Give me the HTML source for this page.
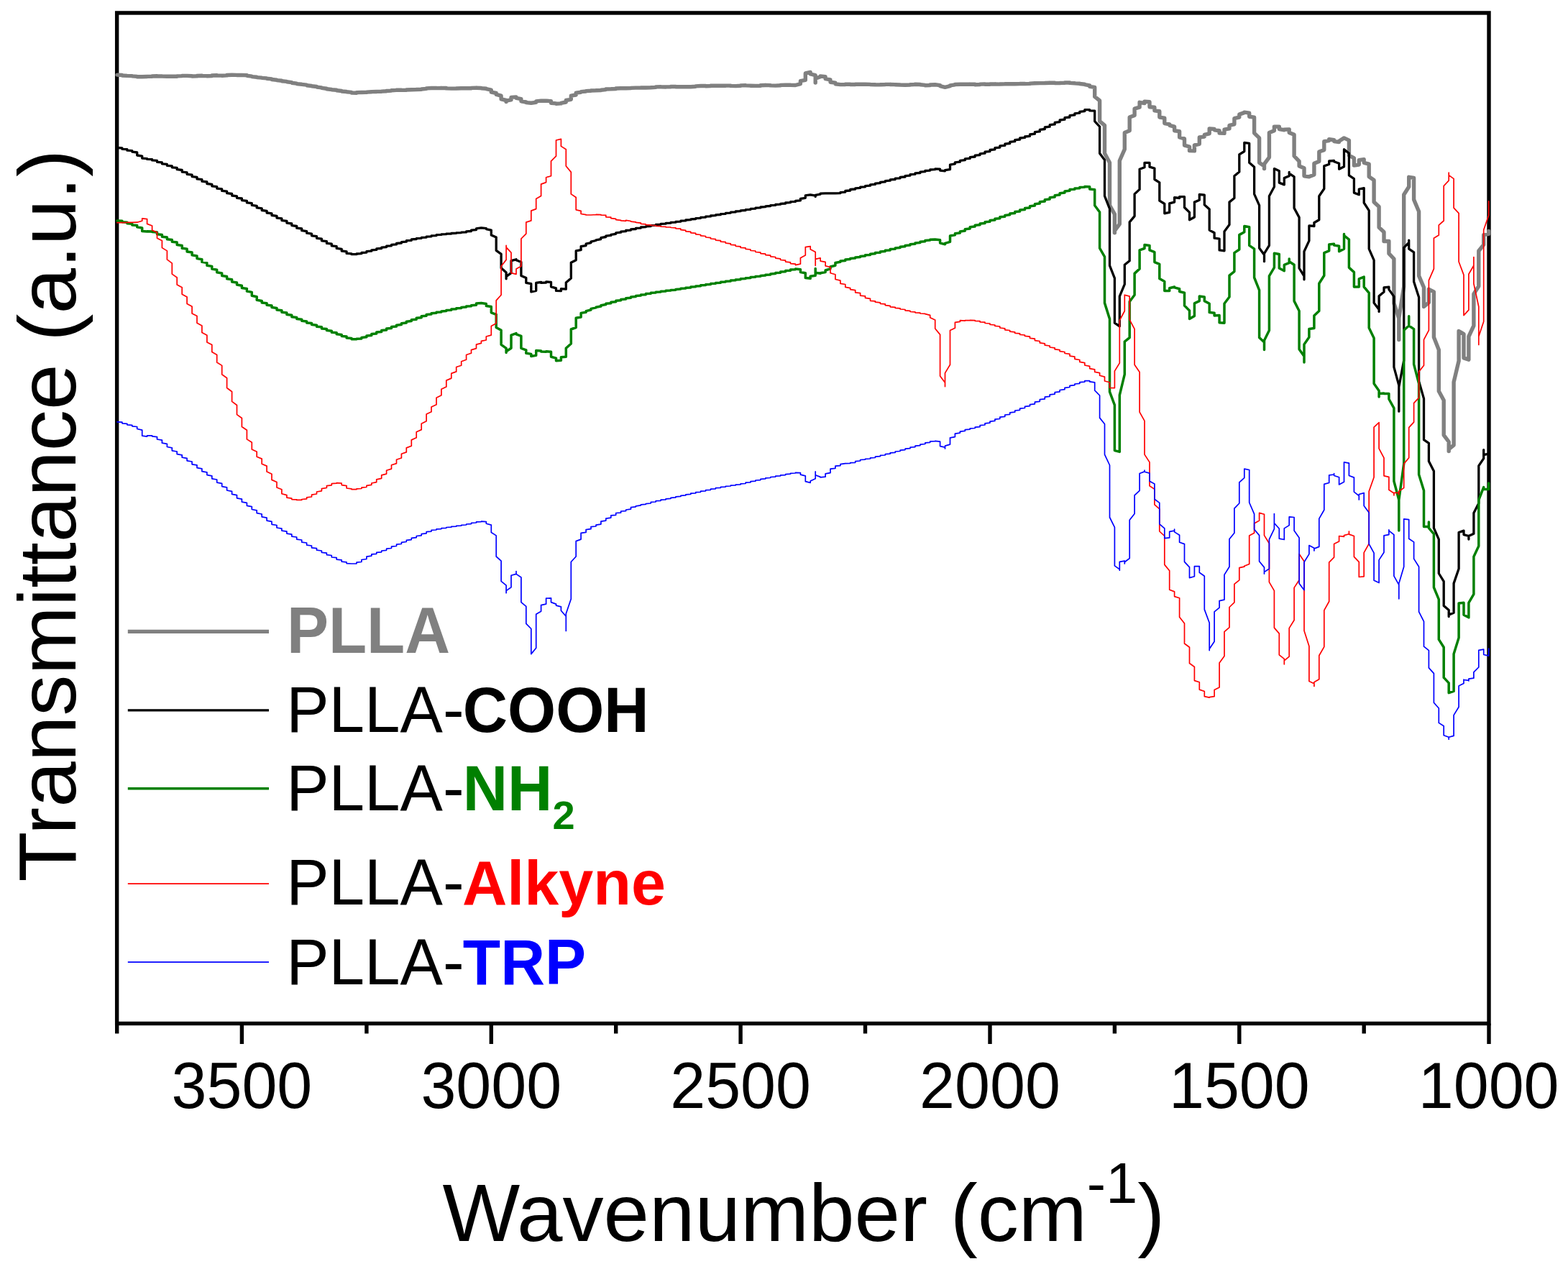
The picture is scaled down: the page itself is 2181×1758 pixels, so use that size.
<!DOCTYPE html>
<html lang="en">
<head>
<meta charset="utf-8">
<title>FTIR spectra</title>
<style>
html,body{margin:0;padding:0;background:#fff;}
body{width:2181px;height:1758px;overflow:hidden;}
svg{display:block;}
text{font-family:"Liberation Sans",Arial,Helvetica,sans-serif;fill:#000;}
.b{font-weight:bold;}
</style>
</head>
<body>
<svg xmlns="http://www.w3.org/2000/svg" width="2181" height="1758" viewBox="0 0 2181 1758">
<rect x="0" y="0" width="2181" height="1758" fill="#fff"/>
<g id="axes" stroke="#000" stroke-width="5.4" fill="none">
<rect x="162.65" y="17.95" width="1908.35" height="1405.55"/>
<line x1="162.7" y1="1423.5" x2="162.7" y2="1437.5"/>
<line x1="336.4" y1="1423.5" x2="336.4" y2="1452.0"/>
<line x1="509.9" y1="1423.5" x2="509.9" y2="1437.5"/>
<line x1="683.3" y1="1423.5" x2="683.3" y2="1452.0"/>
<line x1="856.7" y1="1423.5" x2="856.7" y2="1437.5"/>
<line x1="1030.1" y1="1423.5" x2="1030.1" y2="1452.0"/>
<line x1="1203.5" y1="1423.5" x2="1203.5" y2="1437.5"/>
<line x1="1377.0" y1="1423.5" x2="1377.0" y2="1452.0"/>
<line x1="1550.4" y1="1423.5" x2="1550.4" y2="1437.5"/>
<line x1="1723.8" y1="1423.5" x2="1723.8" y2="1452.0"/>
<line x1="1897.2" y1="1423.5" x2="1897.2" y2="1437.5"/>
<line x1="2071.0" y1="1423.5" x2="2071.0" y2="1452.0"/>
</g>
<g id="curves">
<path d="M163.0 104.1L169.9 104.5L169.9 105.0L176.9 105.4L176.9 105.4L183.8 105.6L183.8 105.9L190.7 106.4L190.7 106.7L197.7 106.8L197.7 106.7L204.6 106.5L204.6 106.4L211.6 106.2L211.6 106.0L218.5 105.8L218.5 105.9L225.4 106.0L225.4 106.1L232.4 106.2L232.4 106.2L239.3 106.3L239.3 106.3L246.2 106.2L246.2 105.9L253.2 105.6L253.2 105.4L260.1 105.4L260.1 105.4L267.1 105.7L267.1 106.0L274.0 105.9L274.0 105.5L280.9 105.3L280.9 105.4L287.9 105.6L287.9 105.8L294.8 105.5L294.8 105.0L301.7 104.7L301.7 104.9L308.7 105.1L308.7 105.2L315.6 104.9L315.6 104.5L322.6 104.3L322.6 104.3L329.5 104.4L329.5 104.5L336.4 104.5L336.4 104.4L343.4 104.7L343.4 105.3L350.3 106.1L350.3 106.6L357.2 107.2L357.2 107.6L364.2 108.1L364.2 108.4L371.1 108.9L371.1 109.3L378.0 109.9L378.0 110.5L385.0 111.2L385.0 111.6L391.9 112.3L391.9 112.8L398.9 113.4L398.9 113.8L405.8 114.6L405.8 115.3L412.7 116.1L412.7 116.6L419.7 117.2L419.7 117.4L426.6 118.1L426.6 118.7L433.5 119.5L433.5 119.8L440.5 120.5L440.5 121.1L447.4 121.9L447.4 122.4L454.4 123.2L454.4 123.8L461.3 124.5L461.3 124.8L468.2 125.3L468.2 125.8L475.2 126.5L475.2 127.0L482.1 127.5L482.1 127.8L489.0 128.4L489.0 129.0L496.0 129.2L496.0 128.7L502.9 128.4L502.9 128.5L509.9 128.4L509.9 128.1L516.8 127.8L516.8 127.6L523.7 127.5L523.7 127.4L530.7 127.3L530.7 127.1L537.6 126.7L537.6 126.5L544.5 126.1L544.5 125.7L551.5 125.4L551.5 125.2L558.4 125.2L558.4 125.4L565.3 125.3L565.3 125.0L572.3 124.7L572.3 124.7L579.2 124.6L579.2 124.5L586.2 124.3L586.2 124.0L593.1 123.4L593.1 122.9L600.0 122.5L600.0 122.5L607.0 122.5L607.0 122.6L613.9 122.5L613.9 122.4L620.8 122.5L620.8 122.9L627.8 123.1L627.8 123.1L634.7 123.1L634.7 123.0L641.7 122.8L641.7 122.7L648.6 122.7L648.6 122.8L655.5 122.7L655.5 122.4L662.5 122.2L662.5 122.3L669.4 122.5L669.4 122.7L676.3 123.3L676.3 123.6L683.3 125.1L683.3 128.2L690.2 129.5L690.2 131.4L697.1 133.2L697.1 137.9L704.1 139.5L704.1 141.6L704.1 140.1L711.0 138.9L711.0 135.4L718.0 134.9L718.0 136.4L724.9 137.6L724.9 140.8L731.8 142.0L731.8 142.6L738.8 143.3L738.8 143.3L745.7 142.4L745.7 140.9L752.6 140.1L752.6 140.1L759.6 140.2L759.6 140.1L766.5 140.8L766.5 143.3L773.5 143.9L773.5 144.2L780.4 143.9L780.4 143.3L787.3 142.0L787.3 139.5L794.3 138.3L794.3 133.2L801.2 132.0L801.2 129.1L808.1 128.2L808.1 127.6L815.1 127.0L815.1 126.6L822.0 126.2L822.0 126.0L829.0 125.9L829.0 125.8L835.9 125.5L835.9 125.2L842.8 124.6L842.8 124.0L849.8 123.7L849.8 123.8L856.7 123.5L856.7 123.0L863.6 122.7L863.6 122.6L870.6 122.7L870.6 122.8L877.5 122.6L877.5 122.4L884.4 122.1L884.4 122.1L891.4 122.1L891.4 122.0L898.3 122.0L898.3 122.0L905.3 121.9L905.3 121.8L912.2 121.4L912.2 120.9L919.1 120.7L919.1 120.9L926.1 121.0L926.1 120.9L933.0 120.8L933.0 120.5L939.9 120.5L939.9 120.7L946.9 120.8L946.9 120.7L953.8 120.7L953.8 120.7L960.8 120.7L960.8 120.7L967.7 120.3L967.7 119.9L974.6 119.5L974.6 119.5L981.6 119.5L981.6 119.7L988.5 119.5L988.5 119.3L995.4 119.1L995.4 119.1L1002.4 119.2L1002.4 119.3L1009.3 119.3L1009.3 119.1L1016.3 119.1L1016.3 119.4L1023.2 119.6L1023.2 119.6L1030.1 119.3L1030.1 118.9L1037.1 118.7L1037.1 118.9L1044.0 119.1L1044.0 119.2L1050.9 119.4L1050.9 119.4L1057.9 119.2L1057.9 118.8L1064.8 118.5L1064.8 118.4L1071.7 118.6L1071.7 118.9L1078.7 119.1L1078.7 119.1L1085.6 118.8L1085.6 118.4L1092.6 118.1L1092.6 118.2L1099.5 118.3L1099.5 118.4L1106.4 118.5L1106.4 118.5L1113.4 116.6L1113.4 112.6L1120.3 111.4L1120.3 102.0L1127.2 100.4L1127.2 103.0L1134.2 104.7L1134.2 115.1L1134.2 109.2L1141.1 106.7L1141.1 105.9L1148.1 106.7L1148.1 109.7L1155.0 110.9L1155.0 114.2L1161.9 115.1L1161.9 116.7L1168.9 117.6L1168.9 117.6L1175.8 117.6L1175.8 117.3L1182.7 117.3L1182.7 117.5L1189.7 117.5L1189.7 117.3L1196.6 117.3L1196.6 117.3L1203.5 117.3L1203.5 117.2L1210.5 117.4L1210.5 117.6L1217.4 117.8L1217.4 117.9L1224.4 117.9L1224.4 117.8L1231.3 117.6L1231.3 117.4L1238.2 117.4L1238.2 117.5L1245.2 117.6L1245.2 117.8L1252.1 118.0L1252.1 118.1L1259.0 118.3L1259.0 118.3L1266.0 118.1L1266.0 117.7L1272.9 117.4L1272.9 117.2L1279.9 117.5L1279.9 117.8L1286.8 118.4L1286.8 118.7L1293.7 118.5L1293.7 118.0L1300.7 117.7L1300.7 117.7L1307.6 118.6L1307.6 119.7L1314.5 121.4L1314.5 121.4L1321.5 119.7L1321.5 118.8L1328.4 117.8L1328.4 117.5L1335.4 117.2L1335.4 117.3L1342.3 117.3L1342.3 117.3L1349.2 117.2L1349.2 117.1L1356.2 117.3L1356.2 117.7L1363.1 117.6L1363.1 117.1L1370.0 117.0L1370.0 117.3L1377.0 117.3L1377.0 117.0L1383.9 116.9L1383.9 117.0L1390.8 117.1L1390.8 117.0L1397.8 116.9L1397.8 116.7L1404.7 116.7L1404.7 116.8L1411.7 116.8L1411.7 116.8L1418.6 116.6L1418.6 116.5L1425.5 116.5L1425.5 116.6L1432.5 116.4L1432.5 116.1L1439.4 115.8L1439.4 115.7L1446.3 115.6L1446.3 115.6L1453.3 115.6L1453.3 115.5L1460.2 115.3L1460.2 115.1L1467.2 115.2L1467.2 115.5L1474.1 115.6L1474.1 115.4L1481.0 115.2L1481.0 114.9L1488.0 115.0L1488.0 115.4L1494.9 115.7L1494.9 115.9L1501.8 116.2L1501.8 116.5L1508.8 117.2L1508.8 117.7L1515.7 118.9L1515.7 120.4L1522.7 121.4L1522.7 134.4L1529.6 139.9L1529.6 168.7L1536.5 174.3L1536.5 213.3L1543.5 226.3L1543.5 285.7L1550.4 297.8L1550.4 323.8L1550.4 321.0L1557.3 311.7L1557.3 223.5L1564.3 207.7L1564.3 184.5L1571.2 181.7L1571.2 163.1L1578.1 160.4L1578.1 151.1L1585.1 149.2L1585.1 142.3L1592.0 143.6L1592.0 141.2L1599.0 141.8L1599.0 148.7L1605.9 149.2L1605.9 153.9L1612.8 154.8L1612.8 163.1L1619.8 164.1L1619.8 171.5L1626.7 172.8L1626.7 174.3L1633.6 176.1L1633.6 181.7L1640.6 182.6L1640.6 191.0L1647.5 192.9L1647.5 202.1L1654.5 204.0L1654.5 209.6L1661.4 209.9L1661.4 201.8L1668.3 200.3L1668.3 191.0L1675.3 190.1L1675.3 187.3L1682.2 185.8L1682.2 178.9L1689.1 179.5L1689.1 180.8L1696.1 181.7L1696.1 185.1L1703.0 185.4L1703.0 180.2L1710.0 178.9L1710.0 174.3L1716.9 172.8L1716.9 164.6L1723.8 163.1L1723.8 159.1L1730.8 156.6L1730.8 156.1L1737.7 157.2L1737.7 162.2L1744.6 163.1L1744.6 185.1L1751.6 191.9L1751.6 226.3L1758.5 230.9L1758.5 234.6L1758.5 228.1L1765.4 218.8L1765.4 184.5L1772.4 181.7L1772.4 176.1L1779.3 176.1L1779.3 179.5L1786.3 180.8L1786.3 180.2L1793.2 179.9L1793.2 184.5L1800.1 187.3L1800.1 217.0L1807.1 224.4L1807.1 230.9L1814.0 233.7L1814.0 244.8L1820.9 245.8L1820.9 245.8L1827.9 243.0L1827.9 227.2L1834.8 224.4L1834.8 211.0L1841.8 208.6L1841.8 196.6L1848.7 195.6L1848.7 193.8L1855.6 194.7L1855.6 196.6L1862.6 197.5L1862.6 196.2L1869.5 191.9L1869.5 191.9L1876.4 195.1L1876.4 216.1L1883.4 219.8L1883.4 230.0L1890.3 229.1L1890.3 222.6L1897.2 221.6L1897.2 226.3L1904.2 228.1L1904.2 245.8L1911.1 250.4L1911.1 281.1L1918.1 287.6L1918.1 316.3L1925.0 322.8L1925.0 335.5L1931.9 335.5L1931.9 352.6L1938.9 360.0L1938.9 421.9L1945.8 442.6L1945.8 472.6L1945.8 442.6L1952.7 398.6L1952.7 270.7L1959.7 259.7L1959.7 246.3L1966.6 247.4L1966.6 277.6L1973.6 294.3L1973.6 383.6L1980.5 399.7L1980.5 426.5L1987.4 420.7L1987.4 402.3L1994.4 405.8L1994.4 469.1L2001.3 486.4L2001.3 544.0L2008.2 556.7L2008.2 605.2L2015.2 614.5L2015.2 627.5L2015.2 624.7L2022.1 619.1L2022.1 531.3L2029.1 502.0L2029.1 460.5L2036.0 464.5L2036.0 497.9L2042.9 500.2L2042.9 468.0L2049.9 453.0L2049.9 408.9L2056.8 398.0L2056.8 349.0L2063.7 340.4L2063.7 326.6L2070.7 325.4L2070.7 321.4" fill="none" stroke="#808080" stroke-width="5.4" stroke-linejoin="round" stroke-linecap="round"/>
<path d="M163.0 205.5L169.9 205.8L169.9 207.3L176.9 207.7L176.9 209.2L183.8 209.7L183.8 211.1L190.7 212.0L190.7 216.0L197.7 217.1L197.7 220.1L204.6 220.7L204.6 221.4L211.6 221.7L211.6 222.9L218.5 223.3L218.5 225.3L225.4 225.9L225.4 227.8L232.4 228.4L232.4 230.3L239.3 230.9L239.3 232.8L246.2 233.4L246.2 235.7L253.2 236.5L253.2 239.0L260.1 239.8L260.1 242.3L267.1 243.1L267.1 245.6L274.0 246.4L274.0 248.9L280.9 249.7L280.9 252.2L287.9 253.0L287.9 255.5L294.8 256.3L294.8 258.8L301.7 259.6L301.7 262.1L308.7 262.9L308.7 265.4L315.6 266.2L315.6 268.7L322.6 269.5L322.6 272.0L329.5 272.8L329.5 275.3L336.4 276.0L336.4 278.6L343.4 279.4L343.4 281.9L350.3 282.7L350.3 285.4L357.2 286.3L357.2 288.9L364.2 289.8L364.2 292.5L371.1 293.3L371.1 296.0L378.0 296.8L378.0 299.5L385.0 300.4L385.0 303.1L391.9 303.9L391.9 306.6L398.9 307.4L398.9 310.1L405.8 311.0L405.8 313.6L412.7 314.5L412.7 317.2L419.7 318.0L419.7 320.7L426.6 321.6L426.6 324.2L433.5 325.1L433.5 327.8L440.5 328.6L440.5 331.3L447.4 332.1L447.4 334.8L454.4 335.7L454.4 338.4L461.3 339.2L461.3 341.9L468.2 342.7L468.2 345.4L475.2 346.3L475.2 349.0L482.1 349.8L482.1 352.4L489.0 352.9L489.0 353.7L496.0 353.7L496.0 353.0L502.9 352.7L502.9 351.5L509.9 351.1L509.9 349.7L516.8 349.2L516.8 347.8L523.7 347.4L523.7 345.9L530.7 345.5L530.7 344.1L537.6 343.6L537.6 342.2L544.5 341.8L544.5 340.3L551.5 339.9L551.5 338.5L558.4 338.0L558.4 336.6L565.3 336.2L565.3 334.7L572.3 334.3L572.3 332.9L579.2 332.5L579.2 331.6L586.2 331.3L586.2 330.4L593.1 330.1L593.1 329.1L600.0 328.8L600.0 327.9L607.0 327.6L607.0 326.6L613.9 326.4L613.9 325.9L620.8 325.7L620.8 325.2L627.8 325.0L627.8 324.5L634.7 324.3L634.7 323.8L641.7 323.6L641.7 323.1L648.6 322.9L648.6 321.8L655.5 321.5L655.5 320.1L662.5 319.6L662.5 317.8L669.4 316.9L669.4 316.9L676.3 317.6L676.3 318.6L683.3 320.1L683.3 327.0L690.2 330.1L690.2 348.3L697.1 353.3L697.1 372.7L704.1 379.0L704.1 387.8L704.1 384.6L711.0 379.6L711.0 362.7L718.0 360.8L718.0 361.7L724.9 364.6L724.9 383.4L731.8 386.5L731.8 393.4L738.8 394.7L738.8 405.9L745.7 404.3L745.7 393.4L752.6 392.5L752.6 393.4L759.6 393.0L759.6 391.8L766.5 392.5L766.5 398.8L773.5 400.9L773.5 404.4L780.4 404.7L780.4 401.6L787.3 402.2L787.3 393.0L794.3 387.1L794.3 365.2L801.2 361.7L801.2 348.9L808.1 347.7L808.1 342.6L815.1 341.6L815.1 339.1L822.0 337.6L822.0 336.1L829.0 334.5L829.0 333.9L835.9 332.6L835.9 330.7L842.8 329.5L842.8 328.2L849.8 327.4L849.8 326.4L856.7 325.3L856.7 323.8L863.6 323.2L863.6 322.1L870.6 321.7L870.6 320.5L877.5 320.1L877.5 318.9L884.4 318.5L884.4 317.4L891.4 317.1L891.4 316.0L898.3 315.7L898.3 314.8L905.3 314.5L905.3 313.6L912.2 313.3L912.2 312.5L919.1 312.2L919.1 311.4L926.1 311.2L926.1 310.4L933.0 310.2L933.0 309.4L939.9 309.2L939.9 308.3L946.9 308.1L946.9 307.2L953.8 306.9L953.8 306.0L960.8 305.7L960.8 304.8L967.7 304.5L967.7 303.6L974.6 303.3L974.6 302.4L981.6 302.1L981.6 301.2L988.5 300.9L988.5 300.0L995.4 299.7L995.4 298.8L1002.4 298.5L1002.4 297.6L1009.3 297.3L1009.3 296.4L1016.3 296.1L1016.3 295.2L1023.2 294.9L1023.2 294.0L1030.1 293.7L1030.1 292.8L1037.1 292.5L1037.1 291.6L1044.0 291.3L1044.0 290.4L1050.9 290.1L1050.9 289.2L1057.9 288.9L1057.9 288.0L1064.8 287.7L1064.8 286.8L1071.7 286.5L1071.7 285.6L1078.7 285.4L1078.7 284.5L1085.6 284.2L1085.6 283.3L1092.6 283.0L1092.6 282.0L1099.5 281.7L1099.5 280.7L1106.4 280.4L1106.4 279.4L1113.4 278.8L1113.4 276.3L1120.3 275.3L1120.3 271.8L1127.2 270.8L1127.2 270.8L1134.2 272.2L1134.2 273.5L1134.2 271.3L1141.1 270.2L1141.1 269.1L1148.1 268.8L1148.1 268.8L1155.0 268.8L1155.0 268.8L1161.9 268.8L1161.9 268.8L1168.9 268.7L1168.9 267.6L1175.8 267.1L1175.8 265.5L1182.7 265.0L1182.7 263.5L1189.7 263.0L1189.7 261.8L1196.6 261.4L1196.6 260.2L1203.5 259.8L1203.5 258.6L1210.5 258.2L1210.5 256.8L1217.4 256.4L1217.4 255.1L1224.4 254.7L1224.4 253.3L1231.3 252.9L1231.3 251.6L1238.2 251.2L1238.2 249.9L1245.2 249.5L1245.2 248.2L1252.1 247.8L1252.1 246.4L1259.0 246.0L1259.0 244.6L1266.0 244.1L1266.0 242.7L1272.9 242.3L1272.9 240.9L1279.9 240.5L1279.9 239.1L1286.8 238.7L1286.8 237.5L1293.7 237.1L1293.7 236.0L1300.7 235.7L1300.7 235.0L1307.6 235.2L1307.6 237.1L1314.5 237.9L1314.5 236.7L1321.5 235.7L1321.5 229.1L1328.4 227.9L1328.4 225.8L1335.4 225.2L1335.4 223.3L1342.3 222.7L1342.3 220.9L1349.2 220.4L1349.2 218.6L1356.2 218.0L1356.2 216.2L1363.1 215.6L1363.1 213.8L1370.0 213.2L1370.0 211.2L1377.0 210.6L1377.0 208.5L1383.9 207.8L1383.9 205.7L1390.8 205.1L1390.8 202.9L1397.8 202.3L1397.8 200.2L1404.7 199.5L1404.7 197.4L1411.7 196.7L1411.7 194.6L1418.6 194.0L1418.6 192.0L1425.5 191.4L1425.5 190.0L1432.5 189.3L1432.5 187.0L1439.4 186.2L1439.4 183.7L1446.3 182.9L1446.3 180.3L1453.3 179.5L1453.3 177.0L1460.2 176.2L1460.2 173.7L1467.2 172.9L1467.2 170.4L1474.1 169.6L1474.1 167.0L1481.0 166.2L1481.0 163.7L1488.0 163.0L1488.0 160.6L1494.9 159.9L1494.9 157.8L1501.8 157.2L1501.8 155.3L1508.8 154.6L1508.8 152.7L1515.7 152.6L1515.7 153.9L1522.7 154.2L1522.7 168.7L1529.6 176.1L1529.6 213.3L1536.5 222.6L1536.5 272.7L1543.5 290.3L1543.5 369.3L1550.4 386.9L1550.4 449.2L1557.3 453.9L1557.3 412.1L1564.3 395.4L1564.3 368.3L1571.2 362.8L1571.2 308.9L1578.1 300.6L1578.1 269.9L1585.1 263.4L1585.1 235.2L1592.0 232.8L1592.0 226.3L1599.0 226.3L1599.0 232.2L1605.9 234.1L1605.9 249.5L1612.8 253.8L1612.8 279.2L1619.8 283.5L1619.8 296.8L1626.7 295.4L1626.7 282.9L1633.6 281.1L1633.6 274.6L1640.6 275.5L1640.6 273.6L1647.5 273.6L1647.5 288.5L1654.5 295.4L1654.5 305.8L1661.4 302.0L1661.4 281.1L1668.3 278.3L1668.3 270.5L1675.3 271.2L1675.3 284.8L1682.2 290.9L1682.2 320.1L1689.1 323.8L1689.1 331.2L1696.1 332.1L1696.1 347.9L1703.0 348.8L1703.0 321.9L1710.0 312.6L1710.0 281.1L1716.9 275.5L1716.9 244.8L1723.8 238.9L1723.8 214.8L1730.8 210.5L1730.8 198.4L1737.7 199.4L1737.7 226.3L1744.6 232.2L1744.6 269.9L1751.6 285.7L1751.6 345.1L1758.5 354.4L1758.5 363.7L1758.5 352.6L1765.4 341.4L1765.4 272.7L1772.4 259.7L1772.4 234.6L1779.3 237.8L1779.3 254.1L1786.3 256.9L1786.3 247.6L1793.2 244.8L1793.2 239.3L1793.2 241.1L1800.1 245.8L1800.1 289.4L1807.1 302.4L1807.1 373.0L1814.0 384.1L1814.0 388.8L1814.0 349.8L1820.9 334.9L1820.9 313.9L1827.9 314.5L1827.9 309.8L1834.8 305.8L1834.8 272.7L1841.8 262.5L1841.8 230.9L1848.7 228.5L1848.7 224.0L1855.6 223.5L1855.6 224.8L1862.6 227.2L1862.6 235.2L1869.5 231.8L1869.5 207.7L1876.4 213.3L1876.4 243.9L1883.4 248.6L1883.4 268.1L1890.3 270.8L1890.3 263.0L1897.2 261.6L1897.2 282.0L1904.2 292.8L1904.2 346.1L1911.1 361.8L1911.1 421.3L1918.1 430.5L1918.1 433.4L1918.1 411.8L1925.0 406.1L1925.0 400.0L1931.9 399.1L1931.9 402.6L1938.9 412.4L1938.9 510.6L1945.8 535.9L1945.8 572.2L1945.8 538.2L1952.7 501.4L1952.7 344.4L1959.7 337.5L1959.7 334.1L1959.7 346.2L1966.6 350.8L1966.6 391.7L1973.6 413.5L1973.6 530.2L1980.5 554.4L1980.5 611.7L1987.4 616.3L1987.4 641.4L1994.4 655.3L1994.4 734.4L2001.3 750.1L2001.3 797.5L2008.2 808.6L2008.2 842.6L2015.2 848.6L2015.2 857.5L2015.2 855.1L2022.1 852.3L2022.1 811.4L2029.1 791.0L2029.1 740.5L2036.0 738.1L2036.0 743.6L2042.9 745.5L2042.9 750.1L2042.9 745.5L2049.9 742.3L2049.9 713.4L2056.8 700.0L2056.8 647.9L2063.7 637.7L2063.7 625.6L2063.7 632.6L2070.7 631.2" fill="none" stroke="#000000" stroke-width="3.3" stroke-linejoin="round" stroke-linecap="round"/>
<path d="M163.0 306.9L169.9 307.2L169.9 308.7L176.9 309.2L176.9 310.8L183.8 311.3L183.8 312.9L190.7 313.5L190.7 315.8L197.7 316.9L197.7 321.4L204.6 322.1L204.6 321.8L211.6 321.9L211.6 322.6L218.5 323.1L218.5 325.8L225.4 326.6L225.4 329.3L232.4 330.1L232.4 332.7L239.3 333.6L239.3 336.2L246.2 337.1L246.2 340.4L253.2 341.5L253.2 345.2L260.1 346.3L260.1 350.0L267.1 351.1L267.1 354.8L274.0 355.9L274.0 359.6L280.9 360.8L280.9 364.4L287.9 365.6L287.9 369.2L294.8 370.4L294.8 374.0L301.7 375.2L301.7 378.8L308.7 379.9L308.7 383.5L315.6 384.5L315.6 387.7L322.6 388.7L322.6 391.9L329.5 392.9L329.5 396.1L336.4 397.2L336.4 400.4L343.4 401.4L343.4 405.0L350.3 406.4L350.3 411.2L357.2 412.7L357.2 417.3L364.2 418.5L364.2 421.0L371.1 421.8L371.1 424.3L378.0 425.1L378.0 427.6L385.0 428.4L385.0 430.9L391.9 431.7L391.9 434.2L398.9 434.9L398.9 437.5L405.8 438.2L405.8 440.7L412.7 441.5L412.7 443.6L419.7 444.2L419.7 446.2L426.6 446.9L426.6 448.9L433.5 449.5L433.5 451.6L440.5 452.2L440.5 454.2L447.4 454.8L447.4 456.9L454.4 457.5L454.4 459.5L461.3 460.2L461.3 462.2L468.2 462.8L468.2 464.8L475.2 465.5L475.2 467.5L482.1 468.1L482.1 470.1L489.0 470.6L489.0 471.7L496.0 471.8L496.0 471.3L502.9 471.0L502.9 469.4L509.9 468.8L509.9 466.9L516.8 466.4L516.8 464.5L523.7 463.9L523.7 462.0L530.7 461.4L530.7 459.6L537.6 459.0L537.6 457.1L544.5 456.5L544.5 454.6L551.5 454.0L551.5 452.2L558.4 451.6L558.4 449.7L565.3 449.1L565.3 447.2L572.3 446.6L572.3 444.8L579.2 444.2L579.2 442.3L586.2 441.7L586.2 439.8L593.1 439.2L593.1 437.4L600.0 436.9L600.0 435.7L607.0 435.3L607.0 434.3L613.9 433.9L613.9 432.9L620.8 432.5L620.8 431.5L627.8 431.2L627.8 430.1L634.7 429.8L634.7 428.7L641.7 428.4L641.7 427.4L648.6 427.1L648.6 426.1L655.5 425.7L655.5 424.7L662.5 424.2L662.5 421.9L669.4 421.4L669.4 421.6L676.3 422.6L676.3 425.6L683.3 426.6L683.3 434.8L690.2 437.3L690.2 455.5L697.1 459.2L697.1 479.3L704.1 484.3L704.1 490.6L704.1 488.7L711.0 484.3L711.0 466.1L718.0 463.6L718.0 464.9L724.9 467.4L724.9 484.3L731.8 486.8L731.8 491.2L738.8 492.4L738.8 495.6L745.7 494.3L745.7 487.4L752.6 488.1L752.6 489.1L759.6 489.3L759.6 488.7L766.5 489.3L766.5 496.2L773.5 498.1L773.5 501.8L780.4 501.2L780.4 496.8L787.3 496.2L787.3 484.3L794.3 478.0L794.3 458.0L801.2 455.5L801.2 442.3L808.1 441.0L808.1 435.4L815.1 434.2L815.1 432.6L822.0 431.0L822.0 429.4L829.0 427.9L829.0 427.3L835.9 426.0L835.9 424.7L842.8 423.5L842.8 422.3L849.8 421.8L849.8 420.2L856.7 419.7L856.7 418.2L863.6 417.7L863.6 416.4L870.6 416.0L870.6 414.7L877.5 414.3L877.5 413.0L884.4 412.6L884.4 411.4L891.4 411.1L891.4 410.0L898.3 409.7L898.3 408.6L905.3 408.3L905.3 407.3L912.2 407.0L912.2 406.2L919.1 406.0L919.1 405.2L926.1 405.0L926.1 404.3L933.0 404.1L933.0 403.4L939.9 403.2L939.9 402.4L946.9 402.1L946.9 401.3L953.8 401.0L953.8 400.2L960.8 399.9L960.8 399.0L967.7 398.8L967.7 397.9L974.6 397.7L974.6 396.8L981.6 396.5L981.6 395.7L988.5 395.4L988.5 394.6L995.4 394.3L995.4 393.4L1002.4 393.2L1002.4 392.3L1009.3 392.1L1009.3 391.2L1016.3 390.9L1016.3 390.1L1023.2 389.8L1023.2 389.0L1030.1 388.7L1030.1 387.8L1037.1 387.6L1037.1 386.7L1044.0 386.5L1044.0 385.6L1050.9 385.3L1050.9 384.5L1057.9 384.2L1057.9 383.4L1064.8 383.1L1064.8 382.3L1071.7 382.0L1071.7 381.0L1078.7 380.6L1078.7 379.6L1085.6 379.2L1085.6 378.1L1092.6 377.8L1092.6 376.6L1099.5 376.3L1099.5 375.1L1106.4 374.8L1106.4 374.1L1113.4 374.7L1113.4 378.5L1120.3 379.8L1120.3 386.5L1127.2 387.2L1127.2 384.3L1134.2 383.2L1134.2 373.5L1134.2 379.3L1141.1 380.2L1141.1 379.8L1148.1 378.5L1148.1 376.0L1155.0 373.8L1155.0 371.0L1161.9 369.3L1161.9 365.5L1168.9 364.3L1168.9 363.1L1175.8 362.6L1175.8 361.0L1182.7 360.6L1182.7 359.5L1189.7 359.1L1189.7 357.9L1196.6 357.6L1196.6 356.4L1203.5 356.0L1203.5 354.8L1210.5 354.5L1210.5 353.2L1217.4 352.8L1217.4 351.6L1224.4 351.2L1224.4 350.0L1231.3 349.6L1231.3 348.3L1238.2 347.9L1238.2 346.6L1245.2 346.2L1245.2 344.9L1252.1 344.5L1252.1 343.2L1259.0 342.8L1259.0 341.4L1266.0 341.0L1266.0 339.7L1272.9 339.3L1272.9 338.0L1279.9 337.6L1279.9 336.2L1286.8 335.8L1286.8 334.5L1293.7 334.1L1293.7 333.2L1300.7 333.0L1300.7 333.0L1307.6 333.7L1307.6 338.1L1314.5 339.7L1314.5 338.4L1321.5 336.4L1321.5 328.0L1328.4 326.7L1328.4 324.8L1335.4 324.1L1335.4 321.9L1342.3 321.1L1342.3 318.8L1349.2 318.1L1349.2 315.8L1356.2 315.1L1356.2 313.3L1363.1 312.7L1363.1 311.0L1370.0 310.5L1370.0 308.8L1377.0 308.2L1377.0 306.5L1383.9 306.0L1383.9 304.3L1390.8 303.7L1390.8 301.8L1397.8 301.3L1397.8 299.4L1404.7 298.8L1404.7 297.0L1411.7 296.4L1411.7 294.5L1418.6 293.9L1418.6 292.0L1425.5 291.4L1425.5 289.5L1432.5 288.9L1432.5 286.7L1439.4 286.0L1439.4 283.7L1446.3 283.0L1446.3 280.7L1453.3 280.0L1453.3 277.8L1460.2 277.0L1460.2 274.8L1467.2 274.1L1467.2 271.8L1474.1 271.1L1474.1 268.8L1481.0 268.1L1481.0 265.9L1488.0 265.3L1488.0 263.6L1494.9 263.2L1494.9 262.1L1501.8 261.7L1501.8 260.6L1508.8 260.3L1508.8 259.5L1515.7 259.8L1515.7 263.0L1522.7 263.8L1522.7 285.7L1529.6 295.0L1529.6 345.1L1536.5 357.2L1536.5 421.4L1543.5 443.6L1543.5 544.8L1550.4 563.4L1550.4 626.6L1557.3 628.4L1557.3 549.5L1564.3 520.7L1564.3 475.2L1571.2 469.6L1571.2 419.5L1578.1 410.2L1578.1 380.4L1585.1 373.9L1585.1 347.9L1592.0 345.5L1592.0 340.5L1599.0 341.4L1599.0 347.9L1605.9 350.7L1605.9 364.6L1612.8 367.4L1612.8 387.5L1619.8 391.6L1619.8 404.5L1626.7 404.5L1626.7 400.8L1633.6 399.0L1633.6 399.9L1640.6 401.8L1640.6 405.5L1647.5 407.3L1647.5 425.1L1654.5 431.9L1654.5 443.6L1661.4 439.4L1661.4 421.9L1668.3 418.6L1668.3 412.1L1675.3 413.0L1675.3 418.6L1682.2 422.3L1682.2 434.4L1689.1 435.3L1689.1 439.0L1696.1 438.6L1696.1 448.7L1703.0 449.2L1703.0 422.3L1710.0 413.0L1710.0 383.2L1716.9 377.6L1716.9 351.6L1723.8 347.0L1723.8 326.6L1730.8 322.8L1730.8 314.5L1737.7 315.8L1737.7 341.4L1744.6 346.1L1744.6 386.0L1751.6 403.6L1751.6 469.6L1758.5 476.1L1758.5 486.4L1758.5 473.4L1765.4 459.4L1765.4 383.8L1772.4 372.1L1772.4 352.2L1779.3 353.5L1779.3 373.0L1786.3 376.7L1786.3 368.3L1793.2 365.6L1793.2 360.0L1793.2 363.7L1800.1 368.3L1800.1 418.6L1807.1 432.5L1807.1 485.8L1814.0 495.6L1814.0 504.0L1814.0 478.9L1820.9 469.1L1820.9 457.6L1827.9 456.6L1827.9 439.0L1834.8 432.5L1834.8 394.3L1841.8 383.2L1841.8 351.6L1848.7 348.8L1848.7 339.9L1855.6 339.2L1855.6 341.0L1862.6 342.3L1862.6 349.8L1869.5 346.1L1869.5 325.6L1869.5 327.5L1876.4 333.1L1876.4 372.1L1883.4 378.6L1883.4 399.0L1890.3 399.0L1890.3 387.8L1897.2 385.1L1897.2 399.0L1904.2 407.3L1904.2 455.9L1911.1 470.3L1911.1 533.4L1918.1 543.4L1918.1 552.1L1918.1 547.5L1925.0 546.9L1925.0 547.5L1931.9 547.5L1931.9 555.0L1938.9 567.6L1938.9 669.3L1945.8 695.3L1945.8 738.1L1945.8 695.3L1952.7 645.1L1952.7 459.3L1959.7 453.0L1959.7 439.7L1959.7 453.0L1966.6 457.6L1966.6 506.6L1973.6 533.6L1973.6 660.0L1980.5 682.3L1980.5 732.5L1987.4 732.5L1987.4 726.0L1987.4 734.4L1994.4 742.7L1994.4 817.0L2001.3 833.7L2001.3 889.4L2008.2 900.3L2008.2 942.4L2015.2 949.9L2015.2 963.7L2022.1 961.4L2022.1 909.5L2029.1 887.1L2029.1 838.9L2036.0 838.3L2036.0 855.1L2042.9 858.8L2042.9 838.3L2049.9 826.3L2049.9 774.3L2056.8 759.4L2056.8 695.3L2063.7 677.6L2063.7 680.4L2070.7 680.4L2070.7 672.1" fill="none" stroke="#008000" stroke-width="3.5" stroke-linejoin="round" stroke-linecap="round"/>
<path d="M163.0 309.7L169.9 309.7L169.9 309.6L176.9 309.5L176.9 309.4L183.8 309.4L183.8 309.3L190.7 309.1L190.7 309.2L197.7 307.2L197.7 303.9L204.6 304.6L204.6 311.4L211.6 314.0L211.6 320.3L218.5 323.1L218.5 331.2L225.4 334.7L225.4 344.6L232.4 348.9L232.4 360.9L239.3 366.2L239.3 381.1L246.2 386.0L246.2 395.9L253.2 399.7L253.2 409.3L260.1 413.0L260.1 422.6L267.1 426.3L267.1 435.9L274.0 439.6L274.0 449.2L280.9 453.0L280.9 462.5L287.9 466.3L287.9 475.9L294.8 479.6L294.8 489.4L301.7 493.4L301.7 504.0L308.7 508.4L308.7 520.8L315.6 525.8L315.6 539.5L322.6 544.8L322.6 558.4L329.5 563.5L329.5 576.6L336.4 581.5L336.4 593.5L343.4 598.3L343.4 610.9L350.3 615.2L350.3 624.9L357.2 628.2L357.2 635.3L364.2 638.1L364.2 645.2L371.1 648.1L371.1 656.1L378.0 659.3L378.0 667.4L385.0 670.5L385.0 678.0L391.9 680.7L391.9 686.7L398.9 688.6L398.9 692.1L405.8 693.1L405.8 694.6L412.7 694.9L412.7 695.4L419.7 695.4L419.7 694.5L426.6 693.9L426.6 691.9L433.5 691.0L433.5 688.2L440.5 687.0L440.5 684.0L447.4 682.8L447.4 679.7L454.4 678.5L454.4 675.7L461.3 674.8L461.3 672.7L468.2 672.2L468.2 671.7L475.2 672.1L475.2 674.6L482.1 675.7L482.1 679.0L489.0 679.8L489.0 680.6L496.0 680.6L496.0 679.9L502.9 679.5L502.9 678.2L509.9 677.5L509.9 675.4L516.8 674.4L516.8 672.0L523.7 670.7L523.7 666.9L530.7 665.3L530.7 660.9L537.6 659.1L537.6 654.2L544.5 652.1L544.5 646.7L551.5 644.6L551.5 639.2L558.4 637.0L558.4 631.2L565.3 628.9L565.3 622.9L572.3 620.2L572.3 611.9L579.2 608.8L579.2 600.7L586.2 597.6L586.2 589.3L593.1 585.7L593.1 575.9L600.0 572.7L600.0 566.0L607.0 562.8L607.0 553.2L613.9 549.7L613.9 541.3L620.8 538.0L620.8 529.1L627.8 526.1L627.8 519.4L634.7 516.9L634.7 510.5L641.7 508.2L641.7 502.7L648.6 500.3L648.6 493.5L655.5 491.3L655.5 486.6L662.5 484.6L662.5 479.1L669.4 477.4L669.4 474.3L676.3 473.0L676.3 468.0L683.3 466.1L683.3 453.6L690.2 449.8L690.2 417.9L697.1 410.3L697.1 370.2L704.1 361.4L704.1 341.4L704.1 343.9L711.0 351.4L711.0 379.6L718.0 381.3L718.0 374.0L724.9 370.2L724.9 332.0L731.8 325.1L731.8 309.1L738.8 306.9L738.8 293.1L745.7 290.6L745.7 276.5L752.6 272.4L752.6 256.1L759.6 253.6L759.6 246.7L766.5 244.8L766.5 224.1L773.5 217.2L773.5 195.0L780.4 193.4L780.4 203.4L787.3 207.8L787.3 231.0L794.3 239.4L794.3 269.9L801.2 274.5L801.2 291.8L808.1 293.3L808.1 297.5L815.1 298.7L815.1 298.9L822.0 299.0L822.0 299.0L829.0 298.5L829.0 298.3L835.9 298.7L835.9 299.1L842.8 299.3L842.8 301.8L849.8 302.1L849.8 303.7L856.7 304.3L856.7 305.7L863.6 306.3L863.6 306.9L870.6 307.3L870.6 306.3L877.5 307.5L877.5 308.2L884.4 308.8L884.4 309.4L891.4 310.1L891.4 311.4L898.3 311.9L898.3 312.6L905.3 312.9L905.3 313.5L912.2 313.7L912.2 314.3L919.1 314.6L919.1 315.1L926.1 315.3L926.1 315.8L933.0 316.0L933.0 316.5L939.9 316.8L939.9 317.8L946.9 318.2L946.9 319.7L953.8 320.3L953.8 321.8L960.8 322.4L960.8 323.8L967.7 324.4L967.7 325.9L974.6 326.5L974.6 327.9L981.6 328.5L981.6 330.0L988.5 330.6L988.5 332.0L995.4 332.6L995.4 334.1L1002.4 334.7L1002.4 336.2L1009.3 336.7L1009.3 338.2L1016.3 338.8L1016.3 340.3L1023.2 340.8L1023.2 342.3L1030.1 342.9L1030.1 344.4L1037.1 344.9L1037.1 346.4L1044.0 347.0L1044.0 348.5L1050.9 349.0L1050.9 350.5L1057.9 351.1L1057.9 352.6L1064.8 353.2L1064.8 354.6L1071.7 355.2L1071.7 356.8L1078.7 357.5L1078.7 359.1L1085.6 359.8L1085.6 361.5L1092.6 362.2L1092.6 364.1L1099.5 364.8L1099.5 366.6L1106.4 367.2L1106.4 368.6L1113.4 367.2L1113.4 358.8L1120.3 355.1L1120.3 343.7L1127.2 342.6L1127.2 346.7L1134.2 350.4L1134.2 369.3L1134.2 360.4L1141.1 358.9L1141.1 363.1L1148.1 364.3L1148.1 369.8L1155.0 371.5L1155.0 379.8L1161.9 381.8L1161.9 388.5L1168.9 390.2L1168.9 394.4L1175.8 395.5L1175.8 399.4L1182.7 400.6L1182.7 402.7L1189.7 403.6L1189.7 406.9L1196.6 407.7L1196.6 411.1L1203.5 411.9L1203.5 414.4L1210.5 415.3L1210.5 418.3L1217.4 418.9L1217.4 420.2L1224.4 420.8L1224.4 422.3L1231.3 422.9L1231.3 424.7L1238.2 425.3L1238.2 426.8L1245.2 427.3L1245.2 428.4L1252.1 428.9L1252.1 430.0L1259.0 430.5L1259.0 431.8L1266.0 432.3L1266.0 433.5L1272.9 433.9L1272.9 434.8L1279.9 435.1L1279.9 436.0L1286.8 436.4L1286.8 436.7L1293.7 438.3L1293.7 441.8L1300.7 445.1L1300.7 457.0L1307.6 465.4L1307.6 523.1L1314.5 532.3L1314.5 537.6L1314.5 518.9L1321.5 507.2L1321.5 459.6L1328.4 456.2L1328.4 448.4L1335.4 447.4L1335.4 445.7L1342.3 446.2L1342.3 445.7L1349.2 445.6L1349.2 445.4L1356.2 445.6L1356.2 446.4L1363.1 446.7L1363.1 447.8L1370.0 448.2L1370.0 449.5L1377.0 450.0L1377.0 451.4L1383.9 452.0L1383.9 453.4L1390.8 454.0L1390.8 456.0L1397.8 456.8L1397.8 458.8L1404.7 459.5L1404.7 461.2L1411.7 461.9L1411.7 463.4L1418.6 463.9L1418.6 465.4L1425.5 466.0L1425.5 467.4L1432.5 468.1L1432.5 470.3L1439.4 471.2L1439.4 473.6L1446.3 474.5L1446.3 476.9L1453.3 477.8L1453.3 480.2L1460.2 481.0L1460.2 483.0L1467.2 483.8L1467.2 485.9L1474.1 486.7L1474.1 488.7L1481.0 489.5L1481.0 491.5L1488.0 492.4L1488.0 495.1L1494.9 496.2L1494.9 499.3L1501.8 500.5L1501.8 503.4L1508.8 504.6L1508.8 508.0L1515.7 509.3L1515.7 512.6L1522.7 513.9L1522.7 517.3L1529.6 518.6L1529.6 522.2L1536.5 524.1L1536.5 530.0L1543.5 531.8L1543.5 539.3L1550.4 539.6L1550.4 516.1L1557.3 504.9L1557.3 445.5L1564.3 432.5L1564.3 410.2L1571.2 412.1L1571.2 444.6L1578.1 457.6L1578.1 507.3L1585.1 517.4L1585.1 573.1L1592.0 585.3L1592.0 632.1L1599.0 642.9L1599.0 675.8L1605.9 680.4L1605.9 701.8L1612.8 707.9L1612.8 739.0L1619.8 745.5L1619.8 785.4L1626.7 793.8L1626.7 820.3L1633.6 822.9L1633.6 829.6L1640.6 831.8L1640.6 858.2L1647.5 867.1L1647.5 895.0L1654.5 900.2L1654.5 922.5L1661.4 927.5L1661.4 946.6L1668.3 948.8L1668.3 959.1L1675.3 961.5L1675.3 968.7L1682.2 970.2L1682.2 969.6L1689.1 968.7L1689.1 959.6L1696.1 955.9L1696.1 921.9L1703.0 912.6L1703.0 878.6L1710.0 872.7L1710.0 844.5L1716.9 837.8L1716.9 812.3L1723.8 806.8L1723.8 789.7L1730.8 788.2L1730.8 787.3L1737.7 784.5L1737.7 744.9L1744.6 741.2L1744.6 727.9L1751.6 724.1L1751.6 713.4L1758.5 715.2L1758.5 744.6L1765.4 755.7L1765.4 809.6L1772.4 821.6L1772.4 873.1L1779.3 881.1L1779.3 910.8L1786.3 916.3L1786.3 923.8L1786.3 918.8L1793.2 913.2L1793.2 873.6L1800.1 862.5L1800.1 817.4L1807.1 806.8L1807.1 770.6L1814.0 780.8L1814.0 877.3L1820.9 898.7L1820.9 947.4L1827.9 950.7L1827.9 954.4L1827.9 948.8L1834.8 944.8L1834.8 911.7L1841.8 899.6L1841.8 848.9L1848.7 836.5L1848.7 782.1L1855.6 775.2L1855.6 756.6L1862.6 752.9L1862.6 745.5L1869.5 746.4L1869.5 744.6L1876.4 742.7L1876.4 739.0L1876.4 743.1L1883.4 745.5L1883.4 774.3L1890.3 781.7L1890.3 802.5L1897.2 801.8L1897.2 768.7L1904.2 756.1L1904.2 683.2L1911.1 663.7L1911.1 594.1L1918.1 587.6L1918.1 623.8L1925.0 636.8L1925.0 661.8L1931.9 663.3L1931.9 681.3L1938.9 686.0L1938.9 688.8L1938.9 685.4L1945.8 685.1L1945.8 687.8L1945.8 683.2L1952.7 678.6L1952.7 645.1L1959.7 636.8L1959.7 594.7L1966.6 587.2L1966.6 560.7L1973.6 553.2L1973.6 516.9L1980.5 508.3L1980.5 472.4L1987.4 459.3L1987.4 389.9L1994.4 373.8L1994.4 331.2L2001.3 327.1L2001.3 313.1L2008.2 307.0L2008.2 258.6L2015.2 251.1L2015.2 240.2L2015.2 243.6L2022.1 248.6L2022.1 289.1L2029.1 296.6L2029.1 364.0L2036.0 382.4L2036.0 438.6L2042.9 431.1L2042.9 381.3L2049.9 369.2L2049.9 357.7L2049.9 394.5L2056.8 426.5L2056.8 479.5L2056.8 468.0L2063.7 447.2L2063.7 319.7L2070.7 299.5L2070.7 279.9" fill="none" stroke="#ff0000" stroke-width="1.7" stroke-linejoin="round" stroke-linecap="round"/>
<path d="M163.0 586.8L169.9 587.1L169.9 588.8L176.9 589.3L176.9 590.9L183.8 591.3L183.8 592.8L190.7 593.5L190.7 596.5L197.7 598.2L197.7 606.2L204.6 607.2L204.6 605.9L211.6 605.8L211.6 606.9L218.5 607.6L218.5 611.0L225.4 612.1L225.4 616.2L232.4 617.4L232.4 621.5L239.3 622.8L239.3 626.8L246.2 628.0L246.2 631.7L253.2 632.8L253.2 636.2L260.1 637.3L260.1 640.8L267.1 642.0L267.1 645.8L274.0 646.9L274.0 650.7L280.9 651.9L280.9 655.7L287.9 656.9L287.9 660.6L294.8 661.8L294.8 665.8L301.7 667.0L301.7 671.1L308.7 672.4L308.7 676.6L315.6 677.9L315.6 682.0L322.6 683.3L322.6 687.4L329.5 688.7L329.5 692.8L336.4 694.1L336.4 698.1L343.4 699.4L343.4 703.3L350.3 704.6L350.3 708.5L357.2 709.8L357.2 713.7L364.2 715.0L364.2 718.9L371.1 720.2L371.1 724.1L378.0 725.4L378.0 729.3L385.0 730.5L385.0 734.0L391.9 735.1L391.9 738.1L398.9 739.1L398.9 742.1L405.8 743.1L405.8 746.1L412.7 747.0L412.7 750.1L419.7 751.0L419.7 754.1L426.6 755.0L426.6 758.1L433.5 759.0L433.5 761.9L440.5 762.7L440.5 765.2L447.4 766.0L447.4 768.4L454.4 769.2L454.4 771.7L461.3 772.5L461.3 775.0L468.2 775.7L468.2 778.2L475.2 778.9L475.2 781.2L482.1 781.8L482.1 783.7L489.0 784.0L489.0 784.0L496.0 783.8L496.0 782.2L502.9 781.5L502.9 778.5L509.9 777.5L509.9 774.1L516.8 773.2L516.8 770.9L523.7 770.3L523.7 768.4L530.7 767.8L530.7 766.0L537.6 765.3L537.6 763.2L544.5 762.5L544.5 760.2L551.5 759.5L551.5 757.2L558.4 756.5L558.4 754.3L565.3 753.5L565.3 751.3L572.3 750.6L572.3 748.4L579.2 747.7L579.2 745.5L586.2 744.8L586.2 742.6L593.1 741.9L593.1 739.7L600.0 739.1L600.0 737.4L607.0 737.0L607.0 735.9L613.9 735.6L613.9 734.6L620.8 734.3L620.8 733.5L627.8 733.2L627.8 732.4L634.7 732.2L634.7 731.4L641.7 731.1L641.7 730.3L648.6 730.0L648.6 729.0L655.5 728.6L655.5 727.4L662.5 727.0L662.5 725.9L669.4 725.6L669.4 725.1L676.3 725.6L676.3 728.2L683.3 730.1L683.3 740.5L690.2 744.9L690.2 774.0L697.1 780.2L697.1 808.4L704.1 814.1L704.1 824.7L704.1 821.6L711.0 816.8L711.0 800.3L718.0 798.4L718.0 794.6L718.0 798.4L724.9 803.0L724.9 837.6L731.8 843.3L731.8 867.3L738.8 874.5L738.8 909.6L745.7 901.2L745.7 854.2L752.6 850.2L752.6 841.6L759.6 840.1L759.6 832.2L766.5 831.9L766.5 837.6L773.5 840.1L773.5 842.1L780.4 843.8L780.4 849.2L787.3 857.3L787.3 877.4L787.3 853.6L794.3 832.9L794.3 781.5L801.2 774.0L801.2 752.6L808.1 750.1L808.1 741.4L815.1 740.4L815.1 736.6L822.0 735.7L822.0 732.6L829.0 732.0L829.0 730.1L835.9 729.1L835.9 725.1L842.8 724.1L842.8 721.1L849.8 720.1L849.8 716.9L856.7 716.3L856.7 713.5L863.6 713.2L863.6 711.0L870.6 710.7L870.6 709.0L877.5 708.1L877.5 705.6L884.4 704.8L884.4 703.8L891.4 702.8L891.4 701.9L898.3 701.3L898.3 700.6L905.3 700.0L905.3 698.4L912.2 698.0L912.2 696.7L919.1 696.4L919.1 695.2L926.1 694.9L926.1 693.8L933.0 693.4L933.0 692.3L939.9 691.9L939.9 690.8L946.9 690.4L946.9 689.3L953.8 688.9L953.8 687.8L960.8 687.4L960.8 686.2L967.7 685.9L967.7 684.7L974.6 684.3L974.6 683.1L981.6 682.8L981.6 681.6L988.5 681.3L988.5 680.2L995.4 679.8L995.4 678.7L1002.4 678.4L1002.4 677.4L1009.3 677.1L1009.3 676.3L1016.3 676.0L1016.3 675.2L1023.2 674.9L1023.2 674.1L1030.1 673.8L1030.1 672.8L1037.1 672.5L1037.1 671.2L1044.0 670.8L1044.0 669.6L1050.9 669.2L1050.9 668.0L1057.9 667.6L1057.9 666.3L1064.8 665.9L1064.8 664.8L1071.7 664.5L1071.7 663.5L1078.7 663.2L1078.7 662.2L1085.6 661.9L1085.6 660.9L1092.6 660.6L1092.6 659.6L1099.5 659.2L1099.5 658.3L1106.4 658.0L1106.4 657.3L1113.4 657.6L1113.4 660.2L1120.3 661.9L1120.3 669.7L1127.2 671.4L1127.2 668.9L1134.2 665.7L1134.2 655.9L1134.2 660.7L1141.1 663.4L1141.1 663.9L1148.1 663.2L1148.1 658.9L1155.0 657.7L1155.0 652.2L1161.9 651.4L1161.9 648.2L1168.9 647.7L1168.9 645.7L1175.8 644.7L1175.8 644.6L1182.7 644.4L1182.7 643.6L1189.7 643.3L1189.7 641.6L1196.6 641.0L1196.6 639.5L1203.5 639.1L1203.5 638.3L1210.5 638.0L1210.5 636.8L1217.4 636.5L1217.4 635.1L1224.4 634.7L1224.4 633.4L1231.3 633.0L1231.3 631.7L1238.2 631.2L1238.2 629.8L1245.2 629.4L1245.2 628.0L1252.1 627.5L1252.1 626.1L1259.0 625.6L1259.0 624.2L1266.0 623.7L1266.0 622.2L1272.9 621.7L1272.9 620.2L1279.9 619.7L1279.9 618.1L1286.8 617.5L1286.8 615.8L1293.7 615.3L1293.7 613.9L1300.7 613.7L1300.7 613.3L1307.6 614.2L1307.6 620.6L1314.5 622.1L1314.5 623.9L1314.5 620.1L1321.5 618.1L1321.5 608.9L1328.4 607.6L1328.4 603.1L1335.4 602.1L1335.4 600.1L1342.3 599.4L1342.3 597.6L1349.2 597.2L1349.2 595.9L1356.2 595.5L1356.2 594.2L1363.1 593.7L1363.1 591.6L1370.0 591.0L1370.0 588.9L1377.0 588.2L1377.0 586.1L1383.9 585.4L1383.9 583.2L1390.8 582.5L1390.8 580.1L1397.8 579.4L1397.8 577.0L1404.7 576.3L1404.7 573.9L1411.7 573.2L1411.7 571.0L1418.6 570.3L1418.6 568.2L1425.5 567.5L1425.5 565.4L1432.5 564.7L1432.5 562.6L1439.4 561.8L1439.4 559.2L1446.3 558.3L1446.3 555.7L1453.3 554.9L1453.3 552.2L1460.2 551.4L1460.2 548.9L1467.2 548.1L1467.2 545.7L1474.1 544.9L1474.1 542.5L1481.0 541.7L1481.0 539.3L1488.0 538.5L1488.0 536.3L1494.9 535.7L1494.9 534.0L1501.8 533.4L1501.8 531.7L1508.8 531.2L1508.8 529.7L1515.7 529.7L1515.7 530.9L1522.7 531.8L1522.7 543.0L1529.6 550.0L1529.6 581.1L1536.5 589.8L1536.5 632.1L1543.5 647.0L1543.5 719.5L1550.4 733.4L1550.4 786.9L1557.3 791.9L1557.3 793.2L1557.3 781.3L1564.3 780.2L1564.3 783.9L1564.3 781.7L1571.2 776.5L1571.2 723.2L1578.1 714.5L1578.1 688.8L1585.1 682.3L1585.1 658.5L1592.0 655.9L1592.0 654.0L1592.0 656.3L1599.0 658.1L1599.0 669.3L1605.9 673.0L1605.9 694.3L1612.8 699.4L1612.8 728.8L1619.8 734.9L1619.8 748.7L1626.7 747.9L1626.7 739.4L1633.6 738.1L1633.6 736.2L1633.6 739.9L1640.6 744.2L1640.6 754.2L1647.5 756.6L1647.5 781.3L1654.5 788.8L1654.5 803.6L1661.4 801.8L1661.4 787.7L1668.3 787.7L1668.3 796.2L1675.3 801.2L1675.3 847.6L1682.2 866.2L1682.2 904.6L1682.2 902.4L1689.1 892.2L1689.1 850.8L1696.1 845.2L1696.1 835.6L1703.0 834.1L1703.0 799.4L1710.0 788.2L1710.0 749.8L1716.9 741.2L1716.9 707.1L1723.8 700.0L1723.8 670.8L1730.8 664.6L1730.8 652.2L1737.7 653.5L1737.7 699.0L1744.6 714.8L1744.6 736.2L1751.6 744.6L1751.6 780.8L1758.5 789.1L1758.5 798.1L1758.5 795.6L1765.4 791.0L1765.4 750.1L1772.4 735.7L1772.4 714.5L1772.4 727.5L1779.3 735.3L1779.3 749.2L1786.3 750.5L1786.3 734.9L1793.2 730.6L1793.2 718.9L1800.1 719.5L1800.1 738.1L1807.1 747.9L1807.1 811.4L1814.0 820.7L1814.0 781.7L1820.9 770.6L1820.9 758.5L1827.9 762.2L1827.9 765.9L1827.9 763.1L1834.8 760.4L1834.8 721.4L1841.8 709.3L1841.8 673.4L1848.7 671.5L1848.7 660.9L1855.6 660.0L1855.6 658.7L1855.6 661.5L1862.6 663.7L1862.6 673.9L1869.5 670.2L1869.5 642.9L1876.4 644.2L1876.4 661.5L1883.4 664.1L1883.4 684.1L1890.3 689.7L1890.3 694.9L1890.3 687.5L1897.2 685.6L1897.2 703.6L1904.2 712.9L1904.2 756.6L1911.1 769.1L1911.1 807.3L1918.1 810.5L1918.1 778.9L1925.0 768.3L1925.0 744.9L1931.9 743.6L1931.9 736.8L1931.9 738.1L1938.9 743.6L1938.9 801.2L1945.8 813.3L1945.8 832.8L1945.8 811.4L1952.7 788.2L1952.7 721.9L1959.7 722.7L1959.7 749.2L1966.6 753.9L1966.6 777.1L1973.6 788.2L1973.6 850.8L1980.5 864.3L1980.5 899.2L1987.4 904.7L1987.4 928.9L1994.4 936.6L1994.4 977.3L2001.3 985.0L2001.3 1005.4L2008.2 1009.8L2008.2 1022.7L2015.2 1025.3L2015.2 1028.2L2015.2 1025.3L2022.1 1023.4L2022.1 994.6L2029.1 983.3L2029.1 953.9L2036.0 950.4L2036.0 945.0L2036.0 945.5L2042.9 946.4L2042.9 947.0L2042.9 944.1L2049.9 943.2L2049.9 934.9L2056.8 928.0L2056.8 904.4L2063.7 903.2L2063.7 910.5L2070.7 912.1L2070.7 902.1" fill="none" stroke="#0000ff" stroke-width="1.7" stroke-linejoin="round" stroke-linecap="round"/>
</g>
<g id="legend">
<line x1="177.8" y1="878.4" x2="374.0" y2="878.4" stroke="#808080" stroke-width="5.3"/>
<text transform="translate(398.90 908.30) scale(1.0 1.04)" font-size="87" text-anchor="start" class="b" style="fill:#808080">PLLA</text>
<line x1="177.8" y1="987.8" x2="374.0" y2="987.8" stroke="#000000" stroke-width="3.3"/>
<text transform="translate(398.20 1017.70) scale(1.0 1.024)" font-size="89" text-anchor="start">PLLA-</text>
<text transform="translate(643.80 1017.70) scale(1.0 1.035)" font-size="86.3" text-anchor="start" class="b">COOH</text>
<line x1="177.8" y1="1096.7" x2="374.0" y2="1096.7" stroke="#008000" stroke-width="3.4"/>
<text transform="translate(398.20 1127.10) scale(1.0 1.024)" font-size="89" text-anchor="start">PLLA-</text>
<text transform="translate(643.80 1127.10) scale(1.0 1.035)" font-size="86.3" text-anchor="start" class="b" style="fill:#008000">NH</text>
<text transform="translate(768.50 1153.40)" font-size="56" text-anchor="start" class="b" style="fill:#008000">2</text>
<line x1="177.8" y1="1229.05" x2="374.0" y2="1229.05" stroke="#ff0000" stroke-width="1.8"/>
<text transform="translate(398.20 1258.40) scale(1.0 1.024)" font-size="89" text-anchor="start">PLLA-</text>
<text transform="translate(643.00 1258.40)" font-size="86.3" text-anchor="start" class="b" style="fill:#ff0000">Alkyne</text>
<line x1="177.8" y1="1338.2" x2="374.0" y2="1338.2" stroke="#0000ff" stroke-width="1.8"/>
<text transform="translate(398.20 1368.70) scale(1.0 1.024)" font-size="89" text-anchor="start">PLLA-</text>
<text transform="translate(643.80 1368.70) scale(1.0 1.045)" font-size="85.7" text-anchor="start" class="b" style="fill:#0000ff">TRP</text>
</g>
<g id="ticklabels">
<text transform="translate(336.43 1540.80) scale(1.0 1.04)" font-size="88" text-anchor="middle">3500</text>
<text transform="translate(683.27 1540.80) scale(1.0 1.04)" font-size="88" text-anchor="middle">3000</text>
<text transform="translate(1030.12 1540.80) scale(1.0 1.04)" font-size="88" text-anchor="middle">2500</text>
<text transform="translate(1376.97 1540.80) scale(1.0 1.04)" font-size="88" text-anchor="middle">2000</text>
<text transform="translate(1723.83 1540.80) scale(1.0 1.04)" font-size="88" text-anchor="middle">1500</text>
<text transform="translate(2070.68 1540.80) scale(1.0 1.04)" font-size="88" text-anchor="middle">1000</text>
</g>
<text transform="translate(615.60 1726.00) scale(1.0012 1.0)" font-size="114" text-anchor="start" id="xtitle">Wavenumber (cm<tspan font-size="79" dy="-53">-1</tspan><tspan dy="53">)</tspan></text>
<text transform="translate(105.00 1226.50) rotate(-90) scale(1.003 1.0)" font-size="114" text-anchor="start" id="ytitle">Transmittance (a.u.)</text>
</svg>
</body>
</html>
